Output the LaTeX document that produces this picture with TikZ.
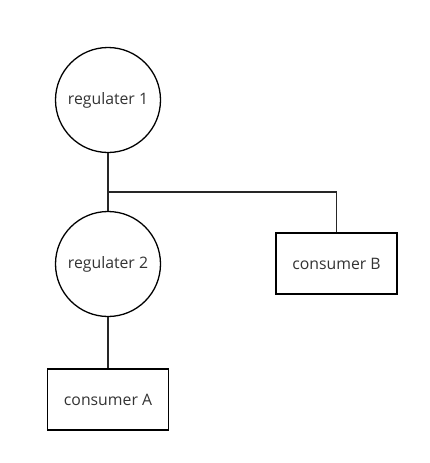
\documentclass[tikz,border=0pt]{standalone}
\usepackage{fontspec}
\setmainfont{Open Sans}
\begin{document}
\begin{tikzpicture}[x=1pt,y=-1pt,
  every node/.style={font=\fontsize{15.8}{19}\selectfont, text=black!80},
  regnode/.style={draw, circle, line width=1.3pt, minimum size=105pt, inner sep=0pt},
  boxnode/.style={draw, rectangle, line width=1.3pt, minimum width=121pt, minimum height=61pt, inner sep=0pt},
  link/.style={line width=1.4pt, black!85}]
\useasboundingbox (0,0) rectangle (429,463);
\node[regnode] (r1) at (108,100) {regulater 1};
\node[regnode] (r2) at (108,264) {regulater 2};
\node[boxnode] (cb) at (336.5,263.5) {consumer B};
\node[boxnode] (ca) at (108,399.5) {consumer A};
\coordinate (j) at (108,192);
\draw[link] (r1.south) -- (r2.north);
\draw[link] (j) -| (cb.north);
\draw[link] (r2.south) -- (ca.north);
\end{tikzpicture}
\end{document}
